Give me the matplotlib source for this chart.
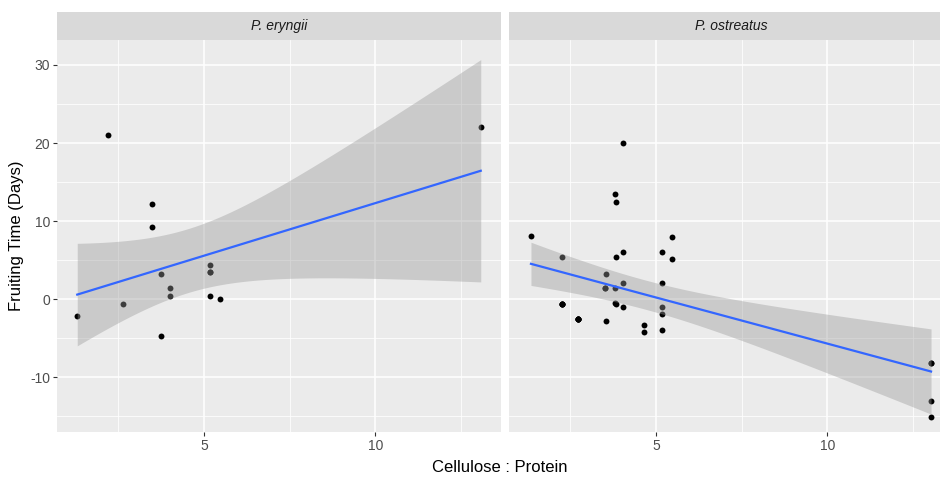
import math
import numpy as np
import matplotlib
matplotlib.use("Agg")
import matplotlib.pyplot as plt

# ---- data (some points overlap exactly) ----
species = ["P. eryngii", "P. ostreatus"]

eryngii_x = [1.31, 2.22, 2.65, 3.49, 3.49, 3.74, 3.74, 4.02, 4.02, 5.17, 5.17, 5.17, 5.46, 13.07,
             5.17]
eryngii_y = [-2.1, 21.0, -0.6, 12.2, 9.3, 3.2, -4.7, 1.5, 0.4, 4.4, 3.5, 0.4, 0.0, 22.0,
             3.5]

ostreatus_x = [1.36, 5.47, 4.05, 3.81, 3.83, 2.26, 3.83, 4.05, 5.19, 5.47, 3.56, 4.05, 5.19,
               3.52, 3.81, 2.26, 3.81, 3.85, 4.05, 5.19, 5.19, 2.72, 3.56, 4.64, 4.64, 5.19,
               13.02, 13.02, 13.02,
               13.02, 2.72, 2.72, 2.72, 2.72, 2.26, 2.26, 2.26, 3.52]
ostreatus_y = [8.15, 8.0, 20.0, 13.5, 12.4, 5.4, 5.4, 6.0, 6.0, 5.1, 3.2, 2.1, 2.1,
               1.5, 1.5, -0.65, -0.5, -0.65, -1.0, -1.0, -1.9, -2.5, -2.8, -3.3, -4.2, -3.9,
               -8.1, -13.0, -15.1,
               -8.1, -2.5, -2.5, -2.5, -2.5, -0.65, -0.65, -0.65, 1.5]

x_ticks = [5, 10]
y_ticks = [-10, 0, 10, 20, 30]
x_label = "Cellulose : Protein"
y_label = "Fruiting Time (Days)"

plt.rcParams['font.family'] = ['Liberation Sans', 'DejaVu Sans']
plt.rcParams['axes.unicode_minus'] = False


def t_quantile(p, df):
    # Student-t quantile: numerical integration of the pdf + bisection
    c = math.gamma((df + 1) / 2) / (math.sqrt(df * math.pi) * math.gamma(df / 2))

    def cdf(t):
        xs = np.linspace(0, t, 4001)
        pdf = c * (1 + xs ** 2 / df) ** (-(df + 1) / 2)
        return 0.5 + np.trapezoid(pdf, xs)

    lo, hi = 0.0, 20.0
    for _ in range(60):
        mid = (lo + hi) / 2
        if cdf(mid) < p:
            lo = mid
        else:
            hi = mid
    return (lo + hi) / 2


def lm_band(x, y, n=80):
    # same as ggplot2 geom_smooth(method = "lm"), 95% confidence band
    x = np.asarray(x, float)
    y = np.asarray(y, float)
    b1, b0 = np.polyfit(x, y, 1)
    res = y - (b0 + b1 * x)
    N = len(x)
    s = math.sqrt(np.sum(res ** 2) / (N - 2))
    xm = x.mean()
    sxx = np.sum((x - xm) ** 2)
    xs = np.linspace(x.min(), x.max(), n)
    yh = b0 + b1 * xs
    se = s * np.sqrt(1 / N + (xs - xm) ** 2 / sxx)
    t = t_quantile(0.975, N - 2)
    return xs, yh, yh - t * se, yh + t * se


W, H = 940, 480
fig = plt.figure(figsize=(W / 100, H / 100), dpi=100)
fig.patch.set_facecolor("white")

panel_bottom = 432
panel_top = 40
strip_top = 12
pw = 444
panels = [(57, eryngii_x, eryngii_y), (509, ostreatus_x, ostreatus_y)]

xlim = (0.72, 13.66)
ylim = (-17.0, 33.2)

for i, (left, xs_, ys_) in enumerate(panels):
    ax = fig.add_axes([left / W, 1 - panel_bottom / H, pw / W, (panel_bottom - panel_top) / H])
    ax.set_facecolor("#EBEBEB")
    ax.set_xlim(*xlim)
    ax.set_ylim(*ylim)
    for s in ax.spines.values():
        s.set_visible(False)
    ax.set_xticks(x_ticks)
    ax.set_yticks(y_ticks)
    ax.set_xticks([2.5, 7.5, 12.5], minor=True)
    ax.set_yticks([-15, -5, 5, 15, 25], minor=True)
    ax.grid(which="major", color="white", linewidth=1.1)
    ax.grid(which="minor", color="white", linewidth=0.55)
    ax.set_axisbelow(True)
    ax.tick_params(which="major", length=3, width=0.8, color="#333333",
                   labelsize=10, labelcolor="#4D4D4D", pad=2)
    ax.tick_params(which="minor", length=0)
    if i == 1:
        ax.tick_params(axis="y", which="major", length=0, labelleft=False)

    ax.scatter(xs_, ys_, s=18, color="black", zorder=2, linewidths=0)
    gx, gy, lo, hi = lm_band(xs_, ys_)
    ax.fill_between(gx, lo, hi, color="#999999", alpha=0.4, linewidth=0, zorder=3)
    ax.plot(gx, gy, color="#3366FF", linewidth=1.6, zorder=4)

    # facet strip
    sax = fig.add_axes([left / W, 1 - panel_top / H, pw / W, (panel_top - strip_top) / H])
    sax.set_facecolor("#D9D9D9")
    sax.set_xticks([])
    sax.set_yticks([])
    for s in sax.spines.values():
        s.set_visible(False)
    sax.text(0.5, 0.5, species[i], transform=sax.transAxes,
             ha="center", va="center", fontsize=10, style="italic", color="#1A1A1A")

fig.text(500 / W, 1 - 468 / H, x_label, ha="center", va="center", fontsize=12, color="black")
fig.text(17 / W, 1 - 236 / H, y_label, ha="center", va="center", rotation=90,
         fontsize=12, color="black")

fig.savefig("out.png", dpi=100)
